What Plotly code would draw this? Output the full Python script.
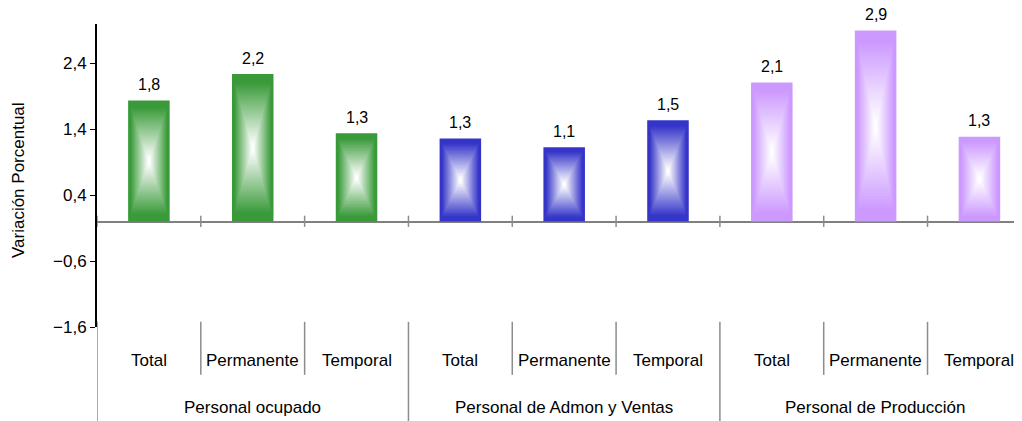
import plotly.graph_objects as go

grupos = ["Personal ocupado", "Personal de Admon y Ventas", "Personal de Producción"]
tipos = ["Total", "Permanente", "Temporal"]
valores = [1.84, 2.24, 1.34, 1.26, 1.13, 1.54, 2.11, 2.9, 1.29]
colores_grupo = ["#3a9a3a", "#3535c9", "#cc99ff"]

idx = list(range(len(valores)))
colores = [colores_grupo[i // 3] for i in idx]


def mezcla(hexcol, w):
    r, g, b = int(hexcol[1:3], 16), int(hexcol[3:5], 16), int(hexcol[5:7], 16)
    r = round(r + (255 - r) * w)
    g = round(g + (255 - g) * w)
    b = round(b + (255 - b) * w)
    return f"rgb({r},{g},{b})"


fig = go.Figure()

# degradado tipo "caja": barras superpuestas que se encogen hacia el centro
N = 30
ancho = 0.4
for k in range(N):
    t = k / N
    w = min(1, max(0, (t - 0.1) / 0.85))
    fig.add_trace(go.Bar(
        x=idx,
        y=[v * (1 - t) for v in valores],
        base=[v * t / 2 for v in valores],
        width=ancho * (1 - t),
        marker=dict(color=[mezcla(c, w) for c in colores], line=dict(width=0)),
        hoverinfo="skip",
        showlegend=False,
    ))

# la pagina deja 8px de margen, por eso la figura es 8px mas chica
fig.update_layout(
    barmode="overlay",
    width=1014,
    height=413,
    margin=dict(l=89, r=0, t=16, b=94),
    plot_bgcolor="white",
    paper_bgcolor="white",
    separators=",.",
    font=dict(family="Arial, Liberation Sans, sans-serif", size=17, color="black"),
    xaxis=dict(
        range=[-0.5, 8.41],
        showticklabels=False,
        showgrid=False,
        zeroline=False,
        ticks="",
    ),
    yaxis=dict(
        range=[-1.6, 3.0],
        tickvals=[-1.6, -0.6, 0.4, 1.4, 2.4],
        tickformat=".1f",
        showgrid=False,
        showline=True,
        linecolor="black",
        linewidth=2,
        ticks="outside",
        ticklen=5,
        tickcolor="black",
        zeroline=True,
        zerolinecolor="#808080",
        zerolinewidth=2,
    ),
)

fig.add_annotation(x=0, y=0.485, xref="paper", yref="paper", xshift=-79,
                   text="Variación Porcentual", textangle=-90, showarrow=False,
                   xanchor="center", yanchor="middle", font=dict(size=17))

# etiquetas de valor
for i, v in zip(idx, valores):
    fig.add_annotation(x=i, y=v, text=f"{v:.1f}".replace(".", ","), showarrow=False,
                       yanchor="middle", yshift=16, font=dict(size=16))

# marcas en la linea de cero y divisores de categorias
gris = "#8c8c8c"
for k in range(len(valores) + 1):
    b = k - 0.5
    fig.add_shape(type="line", xref="x", yref="y", x0=b, x1=b, y0=-0.08, y1=0.09,
                  line=dict(color=gris, width=1.5))
    fondo = -0.31 if k % 3 == 0 else -0.158
    fig.add_shape(type="line", xref="x", yref="paper", x0=b, x1=b, y0=0.017, y1=fondo,
                  line=dict(color=gris, width=1.5))

for i in idx:
    fig.add_annotation(x=i, y=-0.109, xref="x", yref="paper", text=tipos[i % 3],
                       showarrow=False, yanchor="middle", font=dict(size=17))

for g, nombre in enumerate(grupos):
    fig.add_annotation(x=3 * g + 1, y=-0.267, xref="x", yref="paper", text=nombre,
                       showarrow=False, yanchor="middle", font=dict(size=17))

fig.write_html("out.html")
